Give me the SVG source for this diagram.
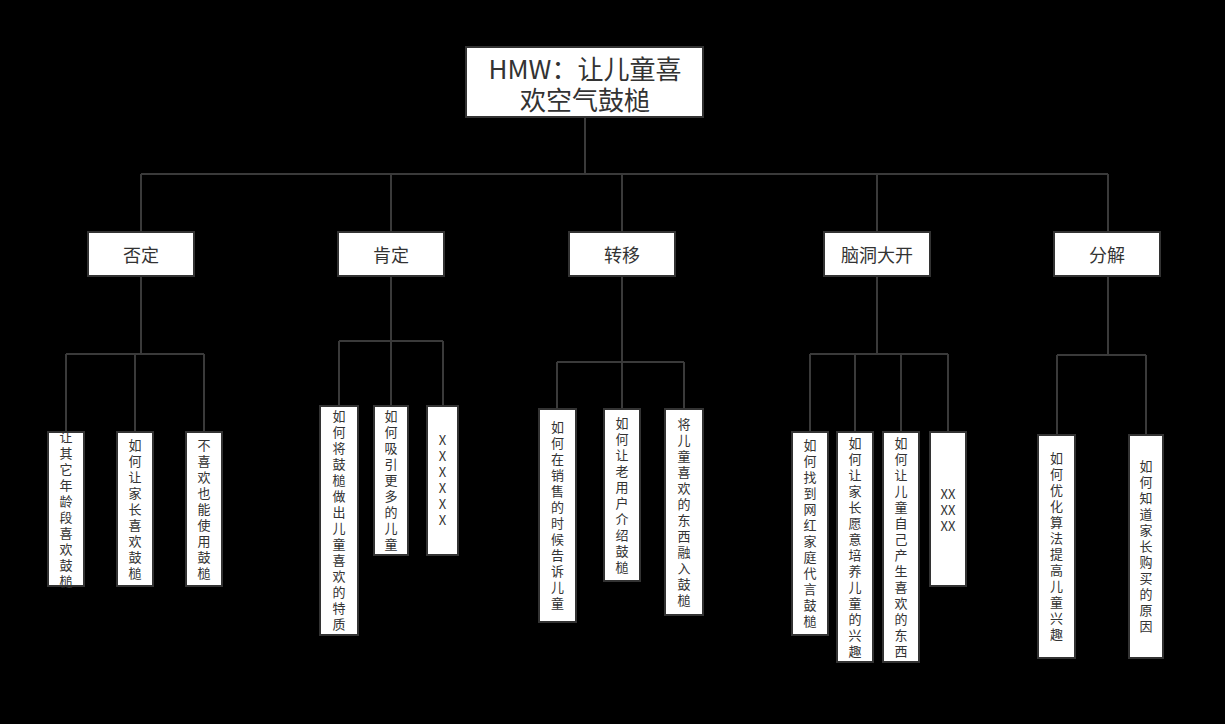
<svg xmlns="http://www.w3.org/2000/svg" width="1225" height="724" viewBox="0 0 1225 724">
<style>
.box{fill:#ffffff;stroke:#333333;stroke-width:2}
.t{font-family:"Noto Sans CJK SC","Noto Sans",sans-serif;fill:#333333;text-anchor:middle;dominant-baseline:central}
.root{font-size:26px}
.l1{font-size:18px}
.leaf{font-size:13px}
.v{writing-mode:vertical-rl;text-orientation:upright;letter-spacing:3px}
.conn{fill:none;stroke:#3a3a3a;stroke-width:2}
</style>
<rect x="0" y="0" width="1225" height="724" fill="#000000"/>
<g id="connectors" class="conn">
<path d="M585 117V174M141 174H1108M141 174V232M391 174V232M622 174V232M877 174V232M1108 174V232"/>
<path d="M141 276V354M66 354H204M66 354V432M135 354V432M204 354V432"/>
<path d="M391 276V341M339 341H443M339 341V406M391 341V406M443 341V406"/>
<path d="M622 276V362M557 362H684M557 362V409M622 362V409M684 362V409"/>
<path d="M877 276V354M810 354H948M810 354V432M855 354V432M901 354V432M948 354V432"/>
<path d="M1108 276V355M1057 355H1146M1057 355V435M1146 355V435"/>
</g>
<g id="root">
<rect class="box" x="466" y="47" width="237" height="70"/>
<text class="t root" x="585" y="67">HMW：让儿童喜</text>
<text class="t root" x="585" y="98">欢空气鼓槌</text>
</g>
<g id="n-fouding"><rect class="box" x="88" y="232" width="106" height="44"/><text class="t l1" x="141" y="254">否定</text></g>
<g id="n-kending"><rect class="box" x="338" y="232" width="106" height="44"/><text class="t l1" x="391" y="254">肯定</text></g>
<g id="n-zhuanyi"><rect class="box" x="569" y="232" width="106" height="44"/><text class="t l1" x="622" y="254">转移</text></g>
<g id="n-naodong"><rect class="box" x="824" y="232" width="106" height="44"/><text class="t l1" x="877" y="254">脑洞大开</text></g>
<g id="n-fenjie"><rect class="box" x="1054" y="232" width="106" height="44"/><text class="t l1" x="1107" y="254">分解</text></g>

<g id="leaf-f1"><rect class="box" x="48" y="432" width="36" height="154"/><text class="t leaf v" x="66" y="510.5">让其它年龄段喜欢鼓槌</text></g>
<g id="leaf-f2"><rect class="box" x="117" y="432" width="36" height="154"/><text class="t leaf v" x="135" y="510.5">如何让家长喜欢鼓槌</text></g>
<g id="leaf-f3"><rect class="box" x="186" y="432" width="36" height="154"/><text class="t leaf v" x="204" y="510.5">不喜欢也能使用鼓槌</text></g>

<g id="leaf-k1"><rect class="box" x="320" y="406" width="38" height="229"/><text class="t leaf v" x="339" y="522">如何将鼓槌做出儿童喜欢的特质</text></g>
<g id="leaf-k2"><rect class="box" x="374" y="406" width="34" height="149"/><text class="t leaf v" x="391" y="482">如何吸引更多的儿童</text></g>
<g id="leaf-k3"><rect class="box" x="427" y="406" width="31" height="149"/><text class="t leaf v" x="442.5" y="482">XXXXXX</text></g>

<g id="leaf-z1"><rect class="box" x="539" y="409" width="37" height="213"/><text class="t leaf v" x="557.5" y="517">如何在销售的时候告诉儿童</text></g>
<g id="leaf-z2"><rect class="box" x="604" y="409" width="36" height="172"/><text class="t leaf v" x="622" y="496.5">如何让老用户介绍鼓槌</text></g>
<g id="leaf-z3"><rect class="box" x="665" y="409" width="38" height="206"/><text class="t leaf v" x="684" y="513.5">将儿童喜欢的东西融入鼓槌</text></g>

<g id="leaf-n1"><rect class="box" x="792" y="432" width="36" height="203"/><text class="t leaf v" x="810" y="535">如何找到网红家庭代言鼓槌</text></g>
<g id="leaf-n2"><rect class="box" x="837" y="432" width="36" height="230"/><text class="t leaf v" x="855" y="548.5">如何让家长愿意培养儿童的兴趣</text></g>
<g id="leaf-n3"><rect class="box" x="883" y="432" width="36" height="230"/><text class="t leaf v" x="901" y="548.5">如何让儿童自己产生喜欢的东西</text></g>
<g id="leaf-n4"><rect class="box" x="930" y="432" width="36" height="154"/>
<text class="t leaf"><tspan x="948" y="493">XX</tspan><tspan x="948" y="509">XX</tspan><tspan x="948" y="525">XX</tspan></text></g>

<g id="leaf-j1"><rect class="box" x="1038" y="435" width="37" height="223"/><text class="t leaf v" x="1056.5" y="548">如何优化算法提高儿童兴趣</text></g>
<g id="leaf-j2"><rect class="box" x="1129" y="435" width="34" height="223"/><text class="t leaf v" x="1146" y="548">如何知道家长购买的原因</text></g>
</svg>
